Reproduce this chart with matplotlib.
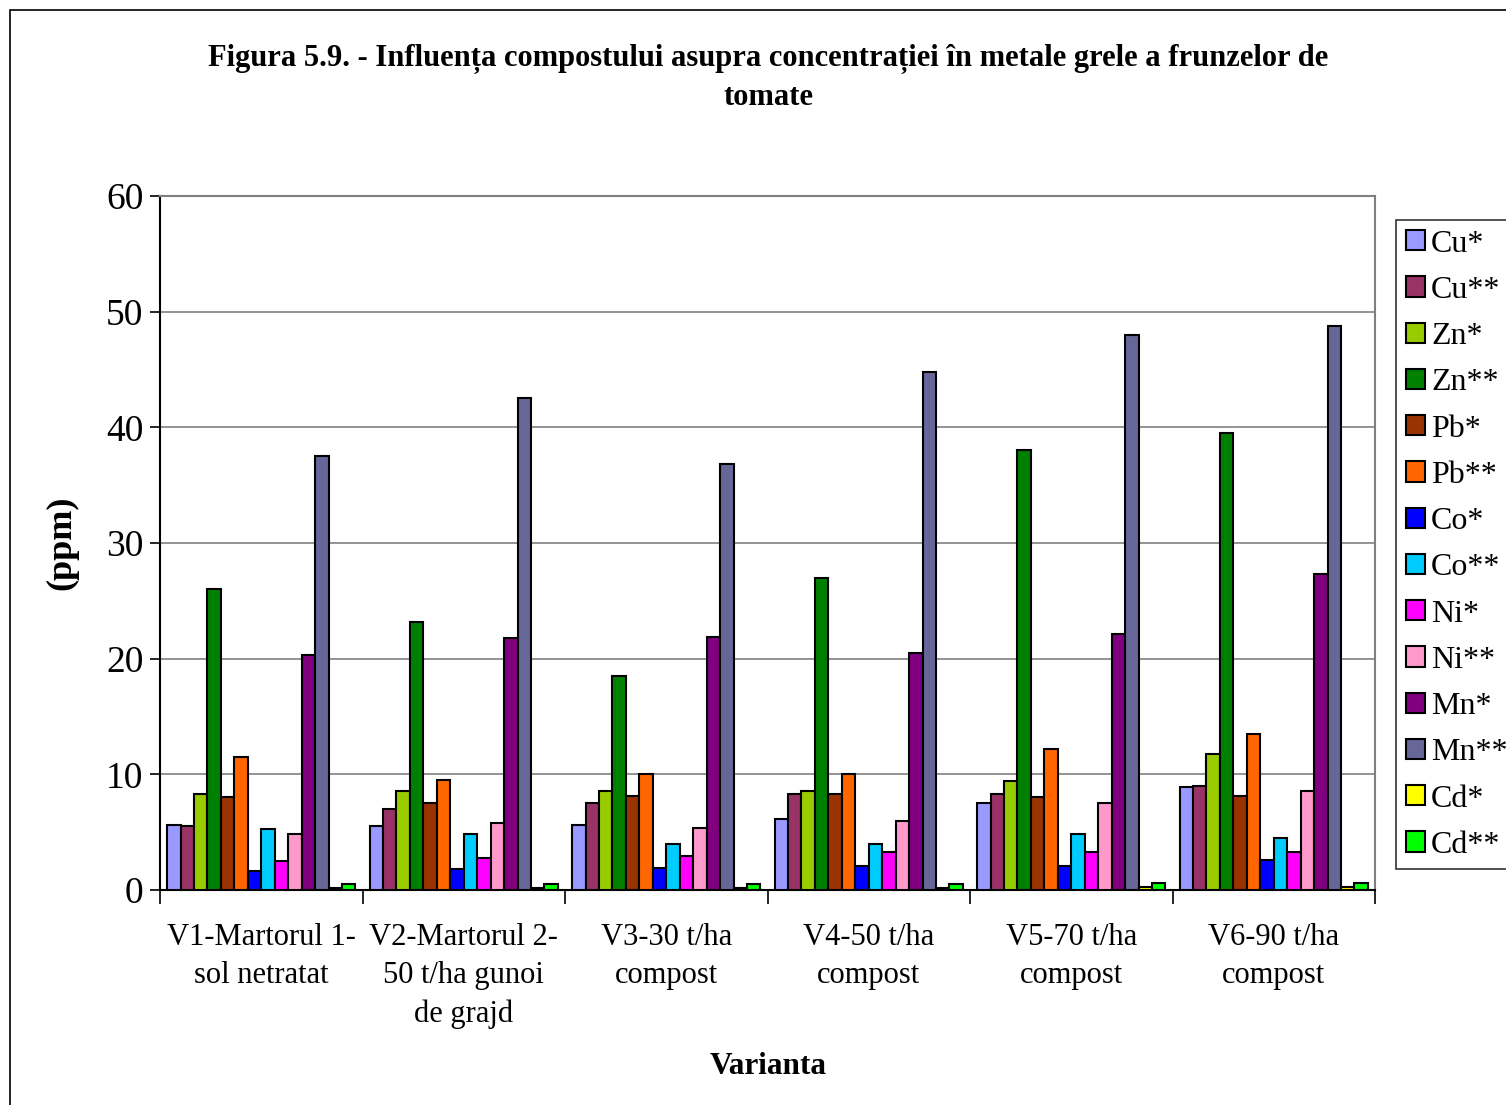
import numpy as np
import matplotlib as mpl
mpl.use('Agg')
import matplotlib.pyplot as plt
from matplotlib.patches import Patch, Rectangle

plt.rcParams['font.family'] = ['Liberation Serif', 'DejaVu Serif']

# variants on the x axis
variante = ['V1-Martorul 1-\nsol netratat', 'V2-Martorul 2-\n50 t/ha gunoi\nde grajd',
            'V3-30 t/ha\ncompost', 'V4-50 t/ha\ncompost', 'V5-70 t/ha\ncompost',
            'V6-90 t/ha\ncompost']

serii = ['Cu*', 'Cu**', 'Zn*', 'Zn**', 'Pb*', 'Pb**', 'Co*', 'Co**',
         'Ni*', 'Ni**', 'Mn*', 'Mn**', 'Cd*', 'Cd**']
culori = ['#9999FF', '#993366', '#99CC00', '#008000', '#993300', '#FF6600', '#0000FF',
          '#00CCFF', '#FF00FF', '#FF99CC', '#800080', '#666699', '#FFFF00', '#00FF00']

# concentrations (ppm), one list per element, V1..V6
cu1 = [5.6, 5.5, 5.6, 6.1, 7.5, 8.9]
cu2 = [5.5, 7.0, 7.5, 8.3, 8.3, 9.0]
zn1 = [8.3, 8.55, 8.6, 8.6, 9.45, 11.8]
zn2 = [26.0, 23.2, 18.5, 27.0, 38.0, 39.5]
pb1 = [8.0, 7.5, 8.1, 8.3, 8.0, 8.1]
pb2 = [11.5, 9.5, 10.0, 10.0, 12.2, 13.5]
co1 = [1.6, 1.8, 1.9, 2.1, 2.1, 2.6]
co2 = [5.3, 4.8, 4.0, 4.0, 4.8, 4.5]
ni1 = [2.5, 2.8, 2.9, 3.3, 3.3, 3.3]
ni2 = [4.8, 5.8, 5.35, 6.0, 7.5, 8.6]
mn1 = [20.3, 21.8, 21.9, 20.5, 22.1, 27.3]
mn2 = [37.5, 42.5, 36.8, 44.8, 48.0, 48.8]
cd1 = [0.2, 0.2, 0.2, 0.2, 0.3, 0.3]
cd2 = [0.5, 0.55, 0.5, 0.5, 0.6, 0.6]

valori = [cu1, cu2, zn1, zn2, pb1, pb2, co1, co2, ni1, ni2, mn1, mn2, cd1, cd2]

W, H = 1506, 1105
fig = plt.figure(figsize=(W / 100, H / 100), dpi=100)

# outer chart frame
fig.patches.append(Rectangle((10 / W, -0.1), 1.2, (H - 10) / H + 0.1,
                             transform=fig.transFigure, fill=False,
                             edgecolor='black', linewidth=1.2))

ax = fig.add_axes([160 / W, 1 - 890 / H, (1375 - 160) / W, (890 - 196) / H])

n = len(serii)
latime = 0.93 / n
x = np.arange(len(variante))
for i, (nume, v) in enumerate(zip(serii, valori)):
    ax.bar(x - 0.465 + latime * (i + 0.5), v, width=latime, color=culori[i],
           edgecolor='black', linewidth=1.5, label=nume, zorder=3)

ax.set_xlim(-0.5, len(variante) - 0.5)
ax.set_ylim(0, 60)
ax.set_yticks(range(0, 61, 10))
ax.yaxis.grid(True, color='#808080', linewidth=1.2, zorder=0)
for s in ax.spines.values():
    s.set_color('#808080')
    s.set_linewidth(1.5)
ax.spines['bottom'].set_color('black')
ax.spines['left'].set_color('black')
ax.tick_params(axis='y', labelsize=27, length=7, width=1.2, pad=5)

# category labels between boundary ticks
ax.set_xticks(np.arange(-0.5, len(variante), 1.0))
ax.set_xticklabels([])
ax.tick_params(axis='x', length=10, width=1.2)
for xi, et in zip(x, variante):
    ax.text(xi, -2.85, et, ha='center', va='top', fontsize=22,
            linespacing=1.42)

ax.set_ylabel('(ppm)', fontsize=26, fontweight='bold', labelpad=20)
fig.text(768 / W, 1 - 1066 / H, 'Varianta', ha='center', va='center',
         fontsize=22.5, fontweight='bold')

fig.text(768 / W, 1 - 78 / H,
         'Figura 5.9. - Influența compostului asupra concentrației în metale grele a frunzelor de\ntomate',
         ha='center', va='center', fontsize=22, fontweight='bold', linespacing=1.4)

handles = [Patch(facecolor=c, edgecolor='black', linewidth=1.5) for c in culori]
leg = fig.legend(handles, serii, loc='upper left',
                 bbox_to_anchor=(1396 / W, 1 - 220 / H), fontsize=23,
                 frameon=True, fancybox=False, handlelength=0.6, handleheight=0.6,
                 handletextpad=0.2, labelspacing=0.54, borderpad=0.3,
                 borderaxespad=0)
leg.get_frame().set_edgecolor('black')
leg.get_frame().set_linewidth(1.2)

fig.savefig('out.png', dpi=100)
